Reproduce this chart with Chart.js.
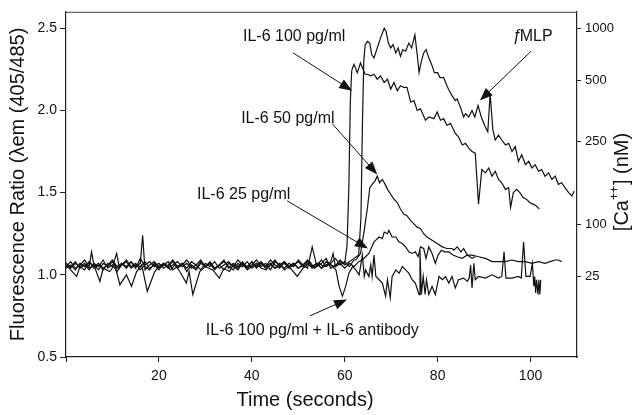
<!DOCTYPE html>
<html>
<head>
<meta charset="utf-8">
<script src="https://cdn.jsdelivr.net/npm/chart.js@4.4.1/dist/chart.umd.min.js"></script>
<style>
  html, body { margin: 0; padding: 0; background: #fff; }
  #wrap { width: 632px; height: 415px; }
</style>
</head>
<body>
<div id="wrap"><canvas id="calciumChart" width="632" height="415"></canvas></div>
<script>
// Fluorescence ratio traces, [time (s), ratio]
const il6_100 = [
  [0,1.07],[1,1.05],[2,1.08],[3,1.04],[4,1.06],[5,1.03],[6,1.07],[7,1.05],[8,1.09],[9,1.04],
  [10,1.06],[11,1.02],[12,1.07],[13,1.05],[14,1.08],[15,1.04],[16,1.10],[17,1.05],[18,1.03],[19,1.07],
  [20,1.04],[21,1.06],[22,1.08],[23,1.03],[24,1.05],[25,1.07],[26,1.02],[27,1.06],[28,1.04],[29,1.08],
  [30,1.05],[31,1.07],[32,1.03],[33,1.06],[34,1.09],[35,1.04],[36,1.07],[37,1.05],[38,1.08],[39,1.04],
  [40,1.06],[41,1.09],[42,1.05],[43,1.07],[44,1.03],[45,1.08],[46,1.06],[47,1.04],[48,1.07],[49,1.05],
  [50,1.09],[51,1.06],[52,1.04],[53,1.17],[54,1.05],[55,1.07],[56,1.10],[57,1.04],[58,1.06],[59,1.08],
  [60,1.07],[60.5,1.18],[60.9,1.55],[61.2,2.05],[61.5,2.24],[61.7,2.26],[62.0,2.28],[62.7,2.23],[63.4,2.29],
  [63.8,2.26],[64.4,2.22],[64.9,2.22],[65.6,2.21],[66.3,2.22],[67.0,2.19],[67.7,2.21],[68.5,2.17],[69.2,2.19],
  [69.9,2.13],[70.6,2.17],[71.3,2.12],[72.0,2.15],[72.7,2.14],[73.4,2.14],[74.2,2.05],[74.9,2.06],[75.6,2.00],
  [76.3,2.01],[77.4,1.94],[78.1,1.96],[79.2,1.95],[79.9,1.99],[80.6,1.94],[81.3,1.95],[82.0,1.91],[82.8,1.92],
  [83.8,1.86],[84.5,1.84],[85.3,1.79],[86.0,1.80],[86.7,1.77],[87.4,1.75],[88.1,1.74],[88.8,1.43],[89.5,1.64],
  [90.3,1.62],[91.0,1.65],[91.7,1.60],[92.4,1.63],[93.1,1.58],[93.8,1.56],[94.6,1.52],[95.3,1.53],[95.7,1.41],
  [96.3,1.50],[97.0,1.52],[97.7,1.50],[98.4,1.47],[99.1,1.46],[99.8,1.44],[100.5,1.43],[101.2,1.42],[101.9,1.40]
];

const il6_100_fmlp = [
  [0,1.05],[1,1.08],[2,1.04],[3,1.06],[4,1.09],[5,1.05],[5.5,1.14],[6,1.06],[7,1.03],[8,1.07],[9,1.05],
  [10,1.08],[11,1.04],[12,1.06],[13,1.09],[14,1.05],[15,1.07],[16,1.03],[17,1.06],[18,1.08],[19,1.05],
  [20,1.07],[21,1.04],[22,1.06],[23,1.09],[24,1.05],[25,1.07],[26,1.04],[27,1.08],[28,1.06],[29,1.03],
  [30,1.07],[31,1.05],[32,1.08],[33,1.04],[34,1.06],[35,1.08],[36,1.05],[37,1.03],[38,1.07],[39,1.05],
  [40,1.08],[41,1.04],[42,1.07],[43,1.05],[44,1.09],[45,1.06],[46,1.04],[47,1.08],[48,1.05],[49,1.07],
  [50,1.04],[51,1.06],[52,1.09],[53,1.05],[54,1.07],[55,1.04],[56,1.08],[57,1.06],[58,1.05],[59,1.09],
  [60,1.06],[61,1.08],[62,1.10],[63,1.12],[63.5,1.35],[63.8,1.90],[64.1,2.30],[64.4,2.40],[64.9,2.42],
  [65.4,2.41],[65.8,2.34],[66.3,2.32],[67.0,2.38],[67.7,2.44],[68.5,2.50],[68.9,2.48],[69.4,2.41],[69.9,2.38],
  [70.4,2.40],[71.0,2.35],[71.5,2.38],[72.0,2.33],[72.5,2.37],[73.1,2.36],[73.8,2.41],[74.4,2.38],[75.1,2.46],
  [75.6,2.34],[76.0,2.23],[76.5,2.30],[77.0,2.35],[77.5,2.37],[78.1,2.32],[78.7,2.28],[79.3,2.23],[80.0,2.23],
  [80.5,2.20],[81.3,2.20],[82.0,2.15],[82.5,2.12],[83.1,2.09],[83.8,2.06],[84.2,2.07],[84.9,2.02],[85.6,1.96],
  [86.0,1.98],[86.7,1.96],[87.4,2.00],[88.0,1.96],[88.7,2.03],[89.4,1.96],[90.1,1.91],[90.8,1.87],[91.3,2.10],
  [91.9,1.88],[92.4,1.82],[93.1,1.85],[93.8,1.82],[94.6,1.79],[95.3,1.80],[96.0,1.75],[96.7,1.78],[97.4,1.69],
  [98.1,1.73],[98.9,1.67],[99.6,1.69],[100.3,1.65],[101.0,1.67],[101.7,1.63],[102.4,1.64],[103.1,1.60],
  [103.9,1.62],[104.6,1.58],[105.3,1.60],[106.0,1.55],[106.7,1.56],[107.4,1.53],[108.2,1.50],[108.9,1.48],[109.4,1.51]
];

const il6_50 = [
  [0,1.04],[1,1.06],[2,1.03],[3,1.07],[4,1.05],[5,1.08],[6,1.04],[7,1.06],[8,1.03],[9,1.07],[10,1.05],
  [10.9,1.13],[11.5,1.04],[12,1.06],[13,1.08],[14,1.04],[15,1.06],[16,1.05],[17,1.08],[18,1.04],[19,1.06],
  [20,1.03],[21,1.07],[22,1.05],[23,1.08],[24,1.04],[25,1.06],[26,1.09],[27,1.05],[28,1.03],[29,1.07],
  [30,1.05],[31,1.08],[32,1.04],[33,1.06],[34,1.03],[35,1.07],[36,1.05],[37,1.09],[38,1.06],[39,1.04],
  [40,1.08],[41,1.05],[42,1.07],[43,1.04],[44,1.06],[45,1.09],[46,1.05],[47,1.07],[48,1.04],[49,1.06],
  [50,1.08],[51,1.05],[52,1.07],[53,1.04],[54,1.06],[55,1.09],[56,1.05],[57,1.07],[58,1.10],[59,1.06],
  [60,1.08],[61,1.05],[62,1.09],[62.4,1.09],[63.4,1.13],[64.2,1.27],[64.9,1.41],[65.4,1.53],[65.9,1.55],
  [66.5,1.57],[67.0,1.60],[67.5,1.56],[68.1,1.58],[68.7,1.55],[69.2,1.52],[69.9,1.49],[70.6,1.46],[71.3,1.44],
  [72.0,1.40],[72.7,1.37],[73.4,1.36],[74.2,1.33],[74.9,1.31],[75.6,1.29],[76.3,1.28],[77.0,1.25],[77.7,1.23],
  [78.8,1.21],[79.9,1.19],[81.0,1.17],[82.0,1.16],[83.1,1.16],[83.5,1.15],[84.2,1.17],[85.0,1.14],[85.6,1.16],
  [86.4,1.12],[87.4,1.12],[88.8,1.11],[90.3,1.10],[91.7,1.08],[93.1,1.08],[94.6,1.08],[96.0,1.09],[97.4,1.08],
  [98.9,1.08],[100.3,1.07],[101.7,1.08],[103.1,1.07],[104.2,1.08],[105.3,1.09],[106.0,1.09],[106.7,1.08]
];

const il6_25 = [
  [0,1.06],[1,1.04],[2,1.07],[3,1.05],[4,1.03],[5,1.08],[6,1.05],[7,1.07],[8,1.04],[9,1.06],[10,1.09],
  [11,1.05],[12,1.07],[13,1.04],[14,1.08],[15,1.05],[16,1.07],[16.5,1.24],[17,1.03],[18,1.06],[19,1.08],
  [20,1.05],[21,1.07],[22,1.04],[23,1.06],[24,1.08],[25,1.05],[26,1.07],[27,1.04],[28,1.06],[29,1.09],
  [30,1.05],[31,1.07],[32,1.04],[33,1.06],[34,1.08],[35,1.05],[36,1.03],[37,1.07],[38,1.05],[39,1.08],
  [40,1.04],[41,1.06],[42,1.08],[43,1.05],[44,1.07],[45,1.04],[46,1.06],[47,1.08],[48,1.05],[49,1.07],
  [50,1.04],[51,1.06],[52,1.08],[53,1.05],[54,1.07],[55,1.04],[56,1.06],[57,1.08],[57.5,1.13],[58,1.05],
  [59,1.07],[60,1.04],[61,1.07],[62,1.05],[63,1.08],[63.8,1.09],[65.2,1.13],[66.3,1.20],[67.4,1.23],[68.1,1.22],
  [68.5,1.26],[69.2,1.25],[69.5,1.27],[70.2,1.23],[71.0,1.23],[71.7,1.20],[72.4,1.19],[73.1,1.17],[73.8,1.14],
  [74.5,1.13],[75.2,1.14],[75.8,1.11],[76.3,1.17],[77.0,1.16],[77.5,1.10],[78.1,1.17],[78.8,1.13],[79.5,1.07],
  [80.1,1.12],[80.8,1.15],[81.5,1.14],[82.4,1.14],[83.3,1.12],[84.2,1.11],[85.3,1.10],[86.4,1.12],[87.4,1.10],[88.1,1.11]
];

const il6_100_antibody = [
  [0,1.06],[1,1.03],[2.3,0.99],[3,1.05],[4,1.07],[5,1.04],[6,1.06],[7.3,0.96],[8,1.04],[9.4,1.02],
  [10.5,1.06],[11.6,0.94],[13.0,1.00],[14.1,0.93],[15.2,1.02],[16.3,1.06],[17.5,0.90],[19.1,1.02],[20,1.05],
  [21.6,1.06],[22.5,1.03],[23.5,1.06],[24.5,1.02],[25.9,0.95],[26.5,1.02],[27.3,0.88],[28.8,1.02],[30,1.05],
  [31.6,1.03],[33.0,0.98],[34,1.04],[35.2,1.02],[36,1.06],[37,1.04],[38,1.07],[39,1.03],[40,1.05],[41,1.07],
  [42,1.04],[43.1,1.03],[44,1.06],[45,1.04],[46,1.07],[47,1.03],[48,1.05],[49.8,0.99],[51,1.04],[51.6,1.05],
  [52.5,1.08],[53.5,1.04],[54.5,1.07],[55.5,1.05],[56.7,1.07],[58.1,1.03],[58.8,0.93],[59.5,0.87],[60.2,0.93],
  [60.9,1.01],[61.7,1.05],[62.4,1.03],[63.1,1.00],[63.8,1.12],[64.2,0.99],[64.5,1.03],[65.2,0.99],[65.6,1.06],
  [65.9,0.99],[66.3,1.12],[66.7,0.99],[67.4,0.97],[68.1,0.95],[68.8,0.87],[69.2,0.97],[69.8,0.86],[70.2,0.99],
  [71.0,1.03],[71.7,1.01],[72.4,1.05],[73.1,1.03],[73.8,1.01],[74.5,0.97],[75.2,0.95],[76.0,0.88],[76.2,1.15],
  [76.5,0.88],[76.9,0.99],[77.3,0.88],[77.6,0.97],[78.1,0.88],[78.8,0.93],[79.5,0.88],[80.3,0.99],[81.0,0.97],
  [81.7,0.99],[82.4,0.95],[83.1,0.99],[83.8,0.92],[84.5,0.97],[85.6,0.98],[86.4,0.96],[86.8,0.98],[87.1,1.06],
  [87.4,0.92],[87.8,1.07],[88.1,0.97],[88.8,0.99],[90.3,0.98],[91.7,1.00],[93.1,0.98],[93.8,0.99],[94.3,1.14],
  [94.7,0.98],[96.0,0.98],[97.4,0.99],[98.0,0.98],[98.5,1.20],[99.0,0.99],[99.9,0.99],[100.4,1.07],[100.7,0.93],
  [100.9,0.99],[101.1,0.89],[101.3,0.97],[101.6,0.88],[101.8,0.97],[102.0,0.88],[102.2,0.97]
];

// axes
const timeTicks = [0, 20, 40, 60, 80, 100];
const ratioTicks = [0.5, 1.0, 1.5, 2.0, 2.5];
const caTickPos = [2.5, 2.182, 1.813, 1.305, 0.992];   // where the [Ca++] marks sit on the ratio scale
const caTickLabels = ['1000', '500', '250', '100', '25'];

// labels and arrows, in data units
const notes = [
  { text: 'IL-6 100 pg/ml', at: [38.1, 2.45] },
  { text: 'IL-6 50 pg/ml', at: [37.7, 1.95] },
  { text: 'IL-6 25 pg/ml', at: [28.2, 1.49] },
  { text: '\u0192', tail: 'MLP', at: [96.2, 2.45] },
  { text: 'IL-6 100 pg/ml + IL-6 antibody', at: [30.1, 0.66] }
];
const arrows = [
  { from: [48.9, 2.35], to: [61.6, 2.12] },
  { from: [57.3, 1.92], to: [67.0, 1.61] },
  { from: [47.6, 1.45], to: [65.0, 1.16] },
  { from: [100.1, 2.36], to: [89.1, 2.06] },
  { from: [52.5, 0.75], to: [60.5, 0.85] }
];

(function () {
  'use strict';

  const FONT = '"Liberation Sans", Arial, Helvetica, sans-serif';
  const INK = '#111111';
  const AXIS = '#222222';

  function toXY(pairs) {
    return pairs.map(function (p) { return { x: p[0], y: p[1] }; });
  }

  function drawArrow(ctx, x1, y1, x2, y2) {
    const ang = Math.atan2(y2 - y1, x2 - x1);
    const len = 13, half = 5;
    ctx.beginPath();
    ctx.moveTo(x1, y1);
    ctx.lineTo(x2 - Math.cos(ang) * len * 0.8, y2 - Math.sin(ang) * len * 0.8);
    ctx.stroke();
    ctx.beginPath();
    ctx.moveTo(x2, y2);
    ctx.lineTo(x2 - Math.cos(ang) * len - Math.sin(ang) * half, y2 - Math.sin(ang) * len + Math.cos(ang) * half);
    ctx.lineTo(x2 - Math.cos(ang) * len + Math.sin(ang) * half, y2 - Math.sin(ang) * len - Math.cos(ang) * half);
    ctx.closePath();
    ctx.fill();
  }

  const figureNotes = {
    id: 'figureNotes',
    afterDraw: function (chart) {
      const ctx = chart.ctx;
      const area = chart.chartArea;
      const sx = chart.scales.x, sy = chart.scales.y;
      ctx.save();

      // top frame line
      ctx.strokeStyle = '#444';
      ctx.lineWidth = 1;
      ctx.beginPath();
      ctx.moveTo(area.left, area.top + 0.5);
      ctx.lineTo(area.right, area.top + 0.5);
      ctx.stroke();

      // text labels
      ctx.fillStyle = INK;
      ctx.font = '16px ' + FONT;
      ctx.textAlign = 'left';
      ctx.textBaseline = 'middle';
      notes.forEach(function (n) {
        const px = sx.getPixelForValue(n.at[0]), py = sy.getPixelForValue(n.at[1]);
        ctx.fillText(n.text, px, py);
        if (n.tail) {
          // pull the tail in tight against the hooked f
          ctx.fillText(n.tail, px + ctx.measureText(n.text).width - 2, py);
        }
      });

      // arrows
      ctx.strokeStyle = INK;
      ctx.lineWidth = 1;
      arrows.forEach(function (a) {
        drawArrow(ctx,
          sx.getPixelForValue(a.from[0]), sy.getPixelForValue(a.from[1]),
          sx.getPixelForValue(a.to[0]), sy.getPixelForValue(a.to[1]));
      });

      // x title (sits a bit left of the plot centre)
      ctx.font = '20px ' + FONT;
      ctx.textAlign = 'center';
      ctx.fillText('Time (seconds)', 305, 400);

      // right title with superscript
      ctx.translate(622, 182);
      ctx.rotate(-Math.PI / 2);
      const big = '20px ' + FONT, small = '12px ' + FONT;
      ctx.font = big;
      const w1 = ctx.measureText('[Ca').width;
      const w3 = ctx.measureText('] (nM)').width;
      ctx.font = small;
      const w2 = ctx.measureText('++').width + 1;
      let cx = -(w1 + w2 + w3) / 2;
      ctx.textAlign = 'left';
      ctx.font = big;
      ctx.fillText('[Ca', cx, 0);
      cx += w1;
      ctx.font = small;
      ctx.fillText('++', cx, -7);
      cx += w2;
      ctx.font = big;
      ctx.fillText('] (nM)', cx, 0);

      ctx.restore();
    }
  };

  const traces = [il6_100, il6_100_fmlp, il6_50, il6_25, il6_100_antibody];
  const names = ['IL-6 100 pg/ml', 'IL-6 100 pg/ml + fMLP', 'IL-6 50 pg/ml', 'IL-6 25 pg/ml', 'IL-6 100 pg/ml + IL-6 antibody'];

  new Chart(document.getElementById('calciumChart'), {
    type: 'line',
    data: {
      datasets: traces.map(function (t, i) {
        return {
          label: names[i],
          data: toXY(t),
          borderColor: INK,
          borderWidth: 1.2,
          pointRadius: 0,
          tension: 0,
          fill: false
        };
      })
    },
    options: {
      responsive: false,
      animation: false,
      devicePixelRatio: 1,
      layout: { padding: { top: 10, left: 0, right: 0, bottom: 0 } },
      plugins: {
        legend: { display: false },
        tooltip: { enabled: false }
      },
      scales: {
        x: {
          type: 'linear',
          min: 0,
          max: 110,
          afterBuildTicks: function (scale) {
            scale.ticks = timeTicks.map(function (v) { return { value: v }; });
          },
          afterFit: function (scale) { scale.height = 58; },
          ticks: {
            autoSkip: false,
            maxRotation: 0,
            padding: 6,
            color: INK,
            font: { family: FONT, size: 14 },
            callback: function (v) { return v === 0 ? '' : v; }
          },
          grid: { drawOnChartArea: false, drawTicks: true, tickLength: 5, color: AXIS },
          border: { display: true, color: AXIS, width: 1.2 }
        },
        y: {
          type: 'linear',
          position: 'left',
          min: 0.5,
          max: 2.6,
          afterBuildTicks: function (scale) {
            scale.ticks = ratioTicks.map(function (v) { return { value: v }; });
          },
          afterFit: function (scale) { scale.width = 66; },
          ticks: {
            padding: 3,
            color: INK,
            font: { family: FONT, size: 14 },
            callback: function (v) { return v.toFixed(1); }
          },
          grid: { drawOnChartArea: false, drawTicks: true, tickLength: 6, color: AXIS },
          border: { display: true, color: AXIS, width: 1.2 },
          title: {
            display: true,
            text: 'Fluorescence Ratio (\u03BBem (405/485)',
            color: INK,
            font: { family: FONT, size: 20 },
            padding: { top: 6, bottom: 0 }
          }
        },
        yCa: {
          type: 'linear',
          position: 'right',
          min: 0.5,
          max: 2.6,
          afterBuildTicks: function (scale) {
            scale.ticks = caTickPos.map(function (v) { return { value: v }; });
          },
          afterFit: function (scale) { scale.width = 55; },
          ticks: {
            padding: 4,
            color: INK,
            font: { family: FONT, size: 13 },
            callback: function (v, i) { return caTickLabels[i]; }
          },
          grid: { drawOnChartArea: false, drawTicks: true, tickLength: 4, color: AXIS },
          border: { display: true, color: AXIS, width: 1.2 }
        }
      }
    },
    plugins: [figureNotes]
  });
})();
</script>
</body>
</html>
